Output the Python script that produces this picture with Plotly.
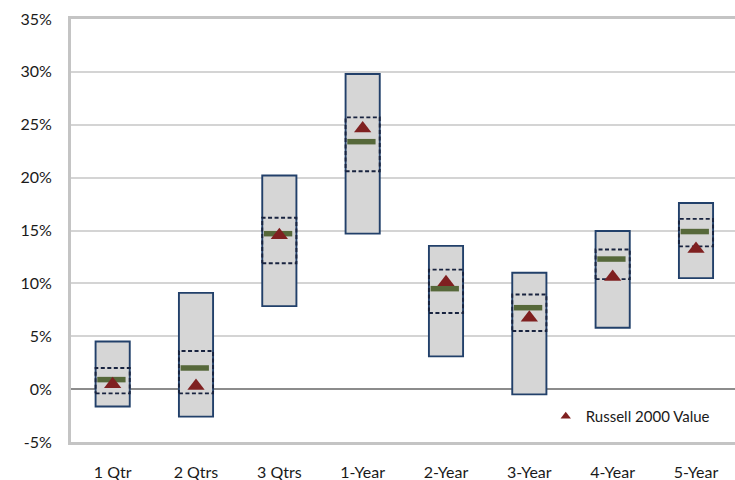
import plotly.graph_objects as go

categories = ["1 Qtr", "2 Qtrs", "3 Qtrs", "1-Year", "2-Year", "3-Year", "4-Year", "5-Year"]
range_max = [4.5, 9.1, 20.2, 29.8, 13.55, 11.0, 14.95, 17.6]
quart_hi = [2.0, 3.6, 16.2, 25.7, 11.3, 8.95, 13.2, 16.1]
median = [0.9, 2.0, 14.7, 23.4, 9.5, 7.7, 12.3, 14.9]
quart_lo = [-0.4, -0.4, 11.9, 20.6, 7.2, 5.5, 10.4, 13.5]
range_min = [-1.65, -2.6, 7.85, 14.7, 3.1, -0.5, 5.8, 10.5]
russell_2000_value = [0.45, 0.3, 14.55, 24.65, 10.1, 6.75, 10.6, 13.25]
y_ticks = [-5, 0, 5, 10, 15, 20, 25, 30, 35]
y_tick_labels = ["-5%", "0%", "5%", "10%", "15%", "20%", "25%", "30%", "35%"]

FONT = "Lato"
idx = list(range(len(categories)))
BW = 0.41

fig = go.Figure()

# outer range boxes
fig.add_trace(go.Bar(
    x=idx, y=[a - b for a, b in zip(range_max, range_min)], base=range_min,
    width=BW, marker=dict(color="#d6d6d6", line=dict(color="#22406a", width=1.9)),
    showlegend=False, hoverinfo="skip"))

# inner dashed interquartile boxes
bx, by = [], []
for i, lo, hi in zip(idx, quart_lo, quart_hi):
    bx += [i - BW / 2, i + BW / 2, i + BW / 2, i - BW / 2, i - BW / 2, None]
    by += [lo, lo, hi, hi, lo, None]
fig.add_trace(go.Scatter(x=bx, y=by, mode="lines",
                         line=dict(color="#18233f", width=1.9, dash="4px,2.5px"),
                         showlegend=False, hoverinfo="skip"))

# medians
mx, my = [], []
for i, m in zip(idx, median):
    mx += [i - 0.185, i + 0.155, None]
    my += [m, m, None]
fig.add_trace(go.Scatter(x=mx, y=my, mode="lines",
                         line=dict(color="#56683a", width=5.5),
                         showlegend=False, hoverinfo="skip"))

# index triangles
fig.add_trace(go.Scatter(x=idx, y=russell_2000_value, mode="markers",
                         marker=dict(symbol="triangle-up", size=15, color="#7f2020"),
                         showlegend=False, name="Russell 2000 Value"))
fig.add_trace(go.Scatter(x=[None], y=[None], mode="markers",
                         marker=dict(symbol="triangle-up", size=9, color="#7f2020"),
                         name="Russell 2000 Value", showlegend=True))

fig.update_layout(
    width=735, height=480,
    margin=dict(l=71, r=0, t=19, b=38),
    plot_bgcolor="white", paper_bgcolor="white",
    font=dict(family=FONT, size=16, color="#1a1a1a"),
    showlegend=True,
    legend=dict(x=0.715, y=0.06, xanchor="left", yanchor="middle",
                bgcolor="rgba(0,0,0,0)", font=dict(size=15),
                itemwidth=30, tracegroupgap=0),
    barmode="overlay",
)
fig.update_xaxes(
    range=[-0.5, 7.468], tickvals=idx, ticktext=categories,
    showgrid=False, zeroline=False, showline=True, linecolor="#c4c4c4",
    linewidth=3, mirror=True, ticks="", ticklabelstandoff=14,
)
fig.update_yaxes(
    range=[-5, 35], tickvals=y_ticks, ticktext=y_tick_labels,
    showgrid=True, gridcolor="#d4d4d4", gridwidth=1.5,
    zeroline=True, zerolinecolor="#8c8c8c", zerolinewidth=2,
    showline=True, linecolor="#c4c4c4", linewidth=3, ticks="",
    ticklabelstandoff=13,
)

fig.write_html("out.html", config={"displayModeBar": False},
               post_script="document.body.style.margin='0';")
